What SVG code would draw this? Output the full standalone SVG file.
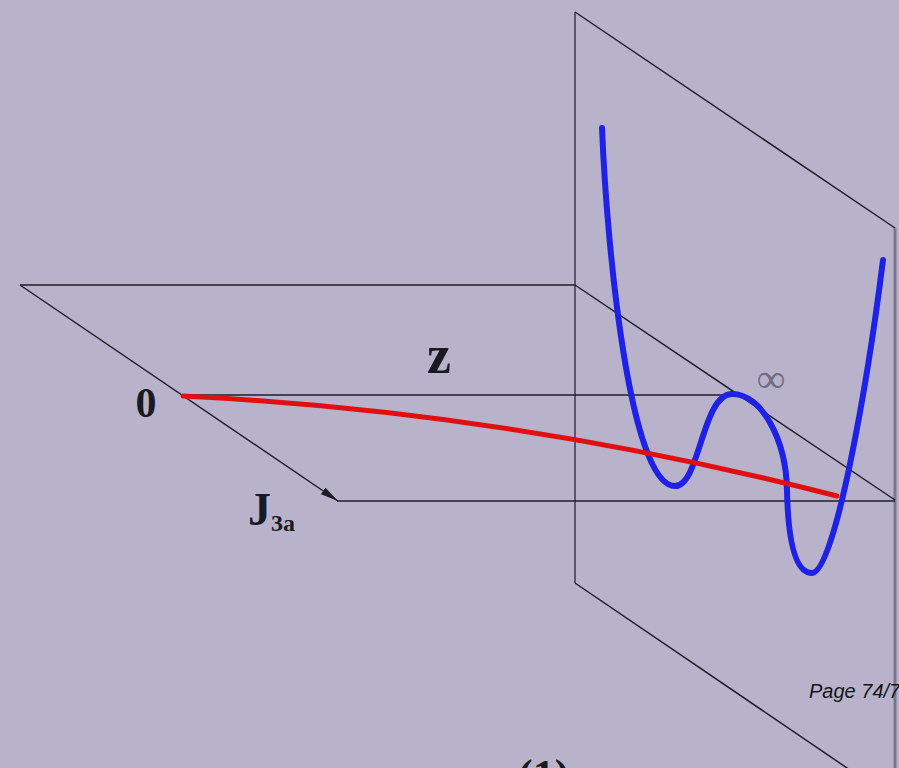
<svg xmlns="http://www.w3.org/2000/svg" width="899" height="768" viewBox="0 0 899 768">
<style>
.ln{stroke:#1e1e28;stroke-width:1.5;fill:none}
.edge{stroke:#5a566e;stroke-width:2;fill:none}
.serif{font-family:"Liberation Serif","Times New Roman",serif;font-weight:bold;fill:#1a1a22}
</style>
<defs>
<marker id="arr" viewBox="0 0 18 8" refX="18" refY="4" markerWidth="18" markerHeight="8" markerUnits="userSpaceOnUse" orient="auto">
<path d="M0,0 L18,4 L0,8 z" fill="#1e1e28"/>
</marker>
</defs>
<rect width="899" height="768" fill="#b8b2cb"/>
<g id="plane">
<line class="edge" x1="575" y1="12" x2="575" y2="583"/>
<line class="ln" x1="575" y1="12" x2="895" y2="228"/>
<line class="edge" x1="895" y1="228" x2="895" y2="768" style="stroke:#7a7590;stroke-width:3"/>
<line class="ln" x1="575" y1="583" x2="850" y2="770"/>
</g>
<g id="connectors">
<line class="ln" x1="20" y1="285" x2="575" y2="285"/>
<line class="ln" x1="575" y1="285" x2="895" y2="500"/>
<line class="ln" x1="183" y1="395" x2="733" y2="395"/>
<line class="ln" x1="337" y1="501" x2="895" y2="501"/>
<line class="ln" x1="20" y1="285" x2="338" y2="501" stroke-width="2" marker-end="url(#arr)"/>
</g>
<g id="potential">
<path d="M602,128 C607,250 630,486 675,486 C700,486 702,394 732,394 C762,394 786,440 787,490 C788,540 795,573 812,573 C835,573 868,380 883,260" fill="none" stroke="#1f22e6" stroke-width="6" stroke-linecap="round"/>
</g>
<g id="path-red">
<path d="M183,396 Q510,412 837,496" fill="none" stroke="#e01010" stroke-width="5" stroke-linecap="round"/>
</g>
<g id="labels">
<text class="serif" x="146" y="417" font-size="42" text-anchor="middle">0</text>
<text class="serif" x="439" y="373" font-size="54" text-anchor="middle">z</text>
<text class="serif" x="248" y="525" font-size="46">J<tspan font-size="24" dy="6">3a</tspan></text>
<text x="771" y="392" font-family="Liberation Serif, serif" font-size="40" text-anchor="middle" fill="#6e6c7e">∞</text>
<text x="809" y="698" font-family="Liberation Sans, Arial, sans-serif" font-style="italic" font-size="20" fill="#141414">Page 74/7</text>
<text class="serif" x="518" y="790" font-size="44">(1)</text>
</g>
</svg>
